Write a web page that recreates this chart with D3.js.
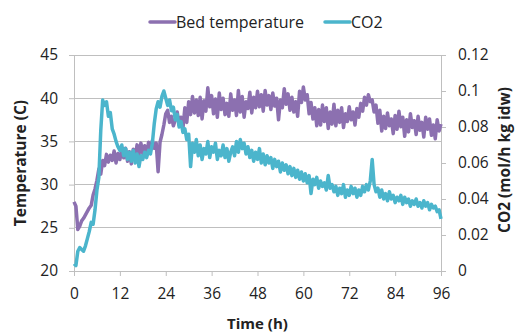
<!DOCTYPE html>
<html><head><meta charset="utf-8">
<script src="https://cdn.jsdelivr.net/npm/d3@7/dist/d3.min.js"></script>
<style>body{margin:0;background:#fff}svg{display:block}text{font-family:"Open Sans",sans-serif;fill:#222}</style>
</head><body><svg id="c" width="521" height="333"></svg>
<script>
const seriesNames = ["Bed temperature", "CO2"];
const hours = [0,0.5,1,1.5,2,2.5,3,3.5,4,4.5,5,5.5,6,6.5,7,7.5,8,8.5,9,9.5,10,10.5,11,11.5,12,12.5,13,13.5,14,14.5,15,15.5,16,16.5,17,17.5,18,18.5,19,19.5,20,20.5,21,21.5,22,22.5,23,23.5,24,24.5,25,25.5,26,26.5,27,27.5,28,28.5,29,29.5,30,30.5,31,31.5,32,32.5,33,33.5,34,34.5,35,35.5,36,36.5,37,37.5,38,38.5,39,39.5,40,40.5,41,41.5,42,42.5,43,43.5,44,44.5,45,45.5,46,46.5,47,47.5,48,48.5,49,49.5,50,50.5,51,51.5,52,52.5,53,53.5,54,54.5,55,55.5,56,56.5,57,57.5,58,58.5,59,59.5,60,60.5,61,61.5,62,62.5,63,63.5,64,64.5,65,65.5,66,66.5,67,67.5,68,68.5,69,69.5,70,70.5,71,71.5,72,72.5,73,73.5,74,74.5,75,75.5,76,76.5,77,77.5,78,78.5,79,79.5,80,80.5,81,81.5,82,82.5,83,83.5,84,84.5,85,85.5,86,86.5,87,87.5,88,88.5,89,89.5,90,90.5,91,91.5,92,92.5,93,93.5,94,94.5,95,95.5,96];
const bedTemp = [28.0,27.5,24.8,25.2,25.8,26.1,26.5,26.9,27.3,27.6,28.8,29.5,30.5,31.8,31.2,32.8,32.2,33.5,32.6,33.4,32.8,33.9,32.5,33.6,32.9,34.0,33.1,34.2,32.7,33.8,32.4,34.1,33.2,34.6,33.5,34.8,33.6,34.5,33.4,34.9,34.0,35.1,34.2,34.8,31.5,34.9,35.8,36.9,38.2,38.6,37.2,37.9,36.8,37.5,38.4,36.9,37.8,36.5,38.9,37.2,39.6,38.1,40.2,38.3,39.8,38.0,40.1,37.6,39.7,38.5,41.2,39.0,40.3,38.2,39.9,37.8,40.6,38.7,40.0,38.1,39.4,37.9,40.5,38.6,39.8,38.0,40.9,38.4,40.2,37.8,39.6,38.8,40.7,38.3,40.1,38.9,40.8,39.0,40.4,38.5,40.9,39.2,40.3,38.7,40.6,39.1,40.0,37.5,39.8,38.9,41.1,39.3,40.5,38.6,40.1,38.4,39.6,37.9,40.8,39.5,41.3,39.8,40.4,38.2,39.5,37.6,38.9,36.8,38.7,36.9,39.2,37.3,38.9,36.5,38.4,37.0,39.3,36.8,38.6,37.2,38.9,36.6,38.2,37.3,39.0,37.5,38.4,36.9,38.8,37.8,39.4,38.5,40.1,39.2,40.4,39.6,39.8,38.4,39.2,37.1,38.6,36.2,37.9,36.5,38.3,36.8,37.6,35.9,38.0,36.4,38.5,36.7,37.8,35.6,37.5,36.1,38.2,36.6,37.4,35.8,37.9,36.3,37.2,35.5,37.8,36.4,37.6,35.7,36.9,35.3,37.5,36.2,37.0];
const co2 = [0.004,0.003,0.011,0.013,0.012,0.011,0.014,0.018,0.022,0.027,0.026,0.034,0.045,0.052,0.078,0.095,0.092,0.094,0.086,0.088,0.079,0.076,0.072,0.069,0.067,0.070,0.064,0.068,0.062,0.066,0.061,0.067,0.060,0.065,0.058,0.064,0.062,0.066,0.063,0.067,0.065,0.071,0.082,0.090,0.094,0.091,0.097,0.100,0.096,0.092,0.095,0.089,0.091,0.084,0.087,0.080,0.083,0.077,0.079,0.073,0.076,0.058,0.071,0.066,0.073,0.064,0.070,0.062,0.068,0.065,0.072,0.063,0.069,0.066,0.071,0.062,0.067,0.064,0.070,0.063,0.068,0.061,0.066,0.069,0.064,0.072,0.066,0.073,0.068,0.071,0.065,0.069,0.063,0.067,0.061,0.066,0.062,0.068,0.060,0.065,0.059,0.064,0.060,0.063,0.057,0.062,0.058,0.061,0.055,0.060,0.056,0.059,0.054,0.058,0.053,0.057,0.052,0.056,0.051,0.055,0.050,0.054,0.049,0.053,0.043,0.051,0.048,0.052,0.046,0.050,0.047,0.049,0.045,0.053,0.046,0.048,0.044,0.047,0.042,0.046,0.043,0.048,0.041,0.045,0.042,0.047,0.043,0.046,0.041,0.045,0.042,0.047,0.044,0.048,0.045,0.050,0.062,0.048,0.044,0.046,0.041,0.045,0.040,0.043,0.039,0.044,0.040,0.042,0.038,0.041,0.039,0.042,0.037,0.041,0.038,0.040,0.036,0.039,0.037,0.040,0.036,0.038,0.035,0.039,0.036,0.038,0.034,0.037,0.035,0.036,0.033,0.034,0.029];
const xTicks = [0,12,24,36,48,60,72,84,96];
const leftTicks = [20,25,30,35,40,45];
const rightTicks = [0,0.02,0.04,0.06,0.08,0.1,0.12];
const colors = ["#8C70B0", "#4BB5CC"];

const svg = d3.select("#c");
const m = {l:74, r:80, t:55, b:62};
const W = 521, H = 333;
const x = d3.scaleLinear().domain([0,96]).range([m.l, W-m.r]);
const yL = d3.scaleLinear().domain([20,45]).range([H-m.b, m.t]);
const yR = d3.scaleLinear().domain([0,0.12]).range([H-m.b, m.t]);
const axisCol = "#bfbfbf";

svg.append("g").selectAll("line").data(leftTicks.slice(1)).join("line")
  .attr("x1", m.l).attr("x2", W-m.r).attr("y1", d=>yL(d)).attr("y2", d=>yL(d))
  .attr("stroke", axisCol).attr("stroke-width", 1).attr("shape-rendering","crispEdges");

function style(g){
  g.select(".domain").attr("stroke", axisCol);
  g.selectAll(".tick line").attr("stroke", axisCol);
  g.selectAll(".tick text").style("font-size","15.5px").attr("fill","#222");
}
svg.append("g").attr("transform",`translate(0,${H-m.b})`)
  .call(d3.axisBottom(x).tickValues(xTicks).tickSizeInner(5).tickSizeOuter(0).tickPadding(12))
  .call(style);
svg.append("g").attr("transform",`translate(${m.l},0)`)
  .call(d3.axisLeft(yL).tickValues(leftTicks).tickSizeInner(5).tickSizeOuter(0).tickPadding(11))
  .call(style);
svg.append("g").attr("transform",`translate(${W-m.r},0)`)
  .call(d3.axisRight(yR).tickValues(rightTicks).tickFormat(d=>d3.format("")(+d.toFixed(2))).tickSizeInner(5).tickSizeOuter(0).tickPadding(12))
  .call(style);

const tempData = d3.zip(hours, bedTemp);
const co2Data = d3.zip(hours, co2);
svg.append("path").datum(tempData)
  .attr("d", d3.line().x(d=>x(d[0])).y(d=>yL(d[1])))
  .attr("fill","none").attr("stroke",colors[0]).attr("stroke-width",3.5).attr("stroke-linejoin","round");
svg.append("path").datum(co2Data)
  .attr("d", d3.line().x(d=>x(d[0])).y(d=>yR(d[1])))
  .attr("fill","none").attr("stroke",colors[1]).attr("stroke-width",3.5).attr("stroke-linejoin","round");

svg.append("text").attr("x", (m.l + W - m.r)/2).attr("y", 329).attr("text-anchor","middle")
  .style("font-size","15px").style("font-weight","bold").text("Time (h)");
svg.append("text").attr("transform",`translate(26,${(m.t+H-m.b)/2}) rotate(-90)`).attr("text-anchor","middle")
  .style("font-size","15.5px").style("font-weight","bold").text("Temperature (C)");
svg.append("text").attr("transform",`translate(510,${(m.t+H-m.b)/2 - 3}) rotate(-90)`).attr("text-anchor","middle")
  .style("font-size","15.5px").style("font-weight","bold").text("CO2 (mol/h kg idw)");

const legX = [150, 325];
const lg = svg.append("g").selectAll("g").data(seriesNames).join("g")
  .attr("transform",(d,i)=>`translate(${legX[i]},22)`);
lg.append("line").attr("x1",0).attr("x2",25).attr("y1",0).attr("y2",0)
  .attr("stroke",(d,i)=>colors[i]).attr("stroke-width",3.5).attr("stroke-linecap","round");
lg.append("text").attr("x",26).attr("y",5.5).style("font-size","16px").text(d=>d);
</script></body></html>
